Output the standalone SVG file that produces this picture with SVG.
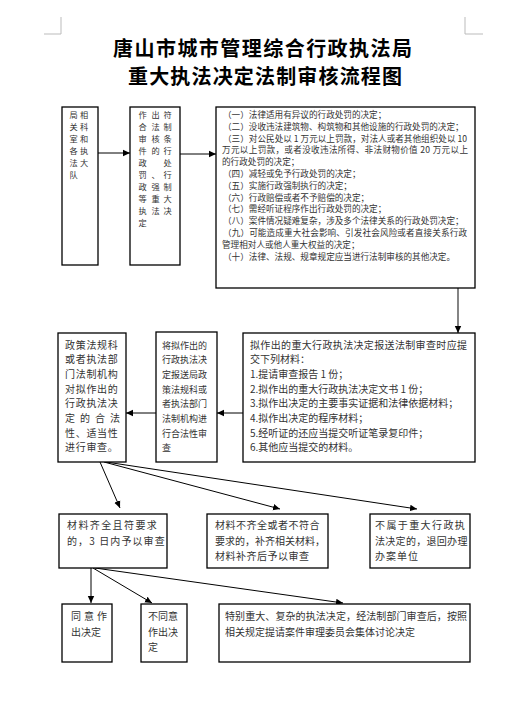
<svg xmlns="http://www.w3.org/2000/svg" width="518" height="703" viewBox="0 0 518 703">
<style>
.box{fill:#fff;stroke:#000;stroke-width:1.3}
.t{font-family:"Noto Sans CJK SC","Noto Sans",sans-serif;font-size:10px;fill:#333}
.v{font-size:8.2px}
.s{font-size:8.6px}
.n{font-size:9px}
.title{font-family:"Noto Sans CJK SC","Noto Sans",sans-serif;font-size:20px;font-weight:bold;fill:#000}
.c{stroke:#000;stroke-width:1;fill:none;marker-end:url(#ah)}
.corner{stroke:#bbb;stroke-width:1;fill:none}
</style>
<defs>
<marker id="ah" markerUnits="userSpaceOnUse" markerWidth="8" markerHeight="8" viewBox="0 0 8 8" refX="7" refY="4" orient="auto">
<path d="M0,0.8 L7,4 L0,7.2 Z" fill="#000"/>
</marker>
</defs>
<rect width="518" height="703" fill="#fff"/>
<path class="corner" d="M61,17 V34 H44"/>
<path class="corner" d="M465,17 V34 H483"/>
<g id="title">
<text class="title" x="113" y="56" textLength="299" lengthAdjust="spacing">唐山市城市管理综合行政执法局</text>
<text class="title" x="128" y="84" textLength="274" lengthAdjust="spacing">重大执法决定法制审核流程图</text>
</g>
<g id="connectors">
<line class="c" x1="98" y1="153" x2="130" y2="153"/>
<line class="c" x1="180" y1="154" x2="216" y2="154"/>
<line class="c" x1="458" y1="288" x2="458" y2="333" style="stroke:#666;stroke-width:1.6"/>
<line class="c" x1="243" y1="413" x2="217" y2="413"/>
<line class="c" x1="156" y1="413" x2="126" y2="413"/>
<line class="c" x1="100" y1="462" x2="120" y2="508"/>
<line class="c" x1="104" y1="462" x2="280" y2="509"/>
<line class="c" x1="106" y1="462" x2="417" y2="509"/>
<line class="c" x1="91" y1="568" x2="91" y2="603"/>
<line class="c" x1="93" y1="568" x2="152" y2="603"/>
<line class="c" x1="95" y1="568" x2="343" y2="603"/>
</g>
<g id="n1">
<rect class="box" x="62" y="107" width="36" height="158"/>
<text class="t v" x="69.5 80" y="118">局相</text>
<text class="t v" x="69.5 80" y="130">关科</text>
<text class="t v" x="69.5 80" y="142">室和</text>
<text class="t v" x="69.5 80" y="154">各执</text>
<text class="t v" x="69.5 80" y="166">法大</text>
<text class="t v" x="69.5" y="178">队</text>
</g>
<g id="n2">
<rect class="box" x="130" y="107" width="50" height="158"/>
<text class="t v" x="138.5 151.5 163.5" y="118">作出符</text>
<text class="t v" x="138.5 151.5 163.5" y="130">合法制</text>
<text class="t v" x="138.5 151.5 163.5" y="142">审核条</text>
<text class="t v" x="138.5 151.5 163.5" y="154">件的行</text>
<text class="t v" x="138.5 163.5" y="166">政处</text>
<text class="t v" x="138.5 151.5 163.5" y="178">罚、行</text>
<text class="t v" x="138.5 151.5 163.5" y="190">政强制</text>
<text class="t v" x="138.5 151.5 163.5" y="202">等重大</text>
<text class="t v" x="138.5 151.5 163.5" y="214">执法决</text>
<text class="t v" x="138.5" y="226">定</text>
</g>
<g id="n3">
<rect class="box" x="216" y="107" width="259" height="181"/>
<text class="t s" x="223" y="118">（一）法律适用有异议的行政处罚的决定；</text>
<text class="t s" x="223" y="129.8">（二）没收违法建筑物、构筑物和其他设施的行政处罚的决定；</text>
<text class="t s" x="223" y="141.6" textLength="244" lengthAdjust="spacing">（三）对公民处以 1 万元以上罚款，对法人或者其他组织处以 10</text>
<text class="t s" x="222" y="153.4" textLength="246" lengthAdjust="spacing">万元以上罚款，或者没收违法所得、非法财物价值 20 万元以上</text>
<text class="t s" x="222" y="165.2">的行政处罚的决定；</text>
<text class="t s" x="223" y="177">（四）减轻或免予行政处罚的决定；</text>
<text class="t s" x="223" y="188.8">（五）实施行政强制执行的决定；</text>
<text class="t s" x="223" y="200.6">（六）行政赔偿或者不予赔偿的决定；</text>
<text class="t s" x="223" y="212.4">（七）需经听证程序作出行政处罚的决定；</text>
<text class="t s" x="223" y="224.2">（八）案件情况疑难复杂，涉及多个法律关系的行政处罚决定；</text>
<text class="t s" x="223" y="236" textLength="244" lengthAdjust="spacing">（九）可能造成重大社会影响、引发社会风险或者直接关系行政</text>
<text class="t s" x="222" y="247.8">管理相对人或他人重大权益的决定；</text>
<text class="t s" x="223" y="259.6">（十）法律、法规、规章规定应当进行法制审核的其他决定。</text>
</g>
<g id="n4">
<rect class="box" x="243" y="333" width="232" height="129"/>
<text class="t" x="250" y="348.5" textLength="217" lengthAdjust="spacing">拟作出的重大行政执法决定报送法制审查时应提</text>
<text class="t" x="250" y="363.2">交下列材料：</text>
<text class="t" x="250" y="377.9">1.提请审查报告 1 份；</text>
<text class="t" x="250" y="392.6">2.拟作出的重大行政执法决定文书 1 份；</text>
<text class="t" x="250" y="407.3">3.拟作出决定的主要事实证据和法律依据材料；</text>
<text class="t" x="250" y="422">4.拟作出决定的程序材料；</text>
<text class="t" x="250" y="436.7">5.经听证的还应当提交听证笔录复印件；</text>
<text class="t" x="250" y="451.4">6.其他应当提交的材料。</text>
</g>
<g id="n5">
<rect class="box" x="156" y="332" width="61" height="130"/>
<text class="t n" x="162" y="348.5">将拟作出的</text>
<text class="t n" x="162" y="363.2">行政执法决</text>
<text class="t n" x="162" y="377.9">定报送局政</text>
<text class="t n" x="162" y="392.6">策法规科或</text>
<text class="t n" x="162" y="407.3">者执法部门</text>
<text class="t n" x="162" y="422">法制机构进</text>
<text class="t n" x="162" y="436.7">行合法性审</text>
<text class="t n" x="162" y="451.4">查</text>
</g>
<g id="n6">
<rect class="box" x="58" y="333" width="68" height="129"/>
<text class="t" x="65" y="348.5" letter-spacing="0.7">政策法规科</text>
<text class="t" x="65" y="363.2" letter-spacing="0.7">或者执法部</text>
<text class="t" x="65" y="377.9" letter-spacing="0.7">门法制机构</text>
<text class="t" x="65" y="392.6" letter-spacing="0.7">对拟作出的</text>
<text class="t" x="65" y="407.3" letter-spacing="0.7">行政执法决</text>
<text class="t" x="65 80 95 110" y="422">定的合法</text>
<text class="t" x="65" y="436.7" letter-spacing="0.7">性、适当性</text>
<text class="t" x="65" y="451.4" letter-spacing="0.7">进行审查。</text>
</g>
<g id="n7">
<rect class="box" x="59" y="514" width="108" height="54"/>
<text class="t" x="67" y="528.5" letter-spacing="1.4">材料齐全且符要求</text>
<text class="t" x="67" y="545" letter-spacing="1.1">的，3 日内予以审查</text>
</g>
<g id="n8">
<rect class="box" x="207" y="514" width="121" height="54"/>
<text class="t" x="215" y="529" letter-spacing="0.5">材料不齐全或者不符合</text>
<text class="t" x="215" y="545" letter-spacing="0">要求的，补齐相关材料，</text>
<text class="t" x="215" y="559.5" letter-spacing="0.5">材料补齐后予以审查</text>
</g>
<g id="n9">
<rect class="box" x="370" y="514" width="100" height="54"/>
<text class="t" x="375" y="528.5" letter-spacing="1.4">不属于重大行政执</text>
<text class="t" x="375" y="545" letter-spacing="0.3">法决定的，退回办理</text>
<text class="t" x="375" y="560" letter-spacing="1">办案单位</text>
</g>
<g id="n10">
<rect class="box" x="62" y="604" width="50" height="58"/>
<text class="t" x="71 84 97" y="620">同意作</text>
<text class="t" x="71" y="636">出决定</text>
</g>
<g id="n11">
<rect class="box" x="141" y="604" width="46" height="58"/>
<text class="t" x="148" y="619.5">不同意</text>
<text class="t" x="148" y="636">作出决</text>
<text class="t" x="148" y="650.5">定</text>
</g>
<g id="n12">
<rect class="box" x="219" y="604" width="251" height="58"/>
<text class="t" x="225" y="619.5" textLength="242" lengthAdjust="spacing">特别重大、复杂的执法决定，经法制部门审查后，按照</text>
<text class="t" x="225" y="636">相关规定提请案件审理委员会集体讨论决定</text>
</g>
</svg>
